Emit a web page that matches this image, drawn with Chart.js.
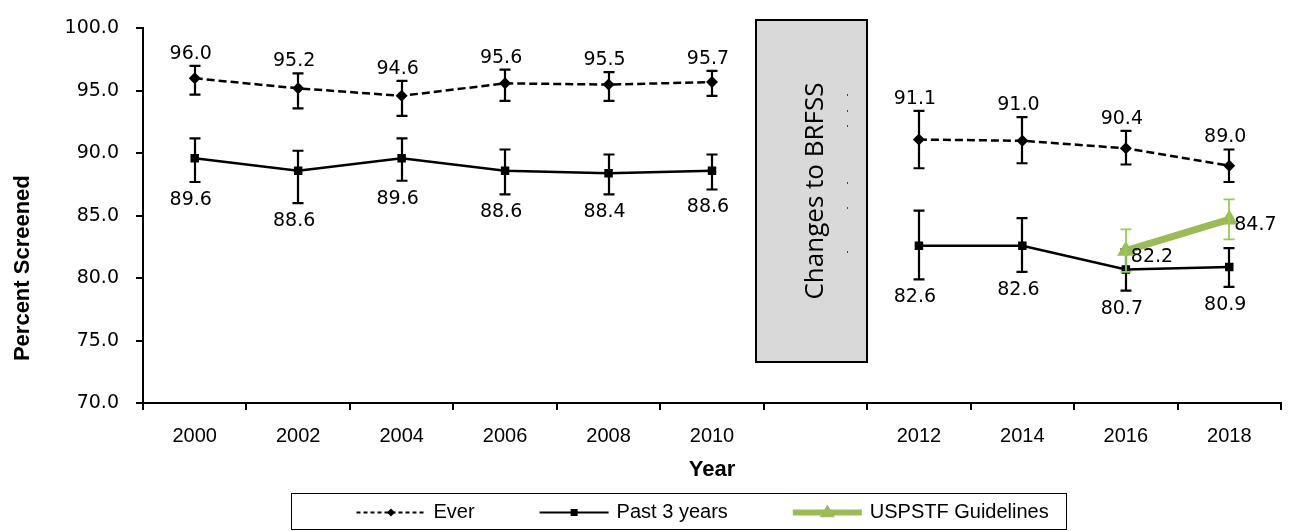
<!DOCTYPE html>
<html>
<head>
<meta charset="utf-8">
<script src="https://cdn.jsdelivr.net/npm/chart.js@4.4.0/dist/chart.umd.min.js"></script>
<style>
  html, body { margin: 0; padding: 0; background: #fff; }
  #wrap { width: 1291px; height: 531px; position: relative; }
</style>
</head>
<body>
<div id="wrap"><canvas id="screenChart"></canvas></div>
<script>
// categories (blank slot marks the BRFSS method change)
const years = ['2000', '2002', '2004', '2006', '2008', '2010', '', '2012', '2014', '2016', '2018'];

// Ever screened, with 95% CI
const everValues = [96.0, 95.2, 94.6, 95.6, 95.5, 95.7, null, 91.1, 91.0, 90.4, 89.0];
const everLow    = [94.7, 93.6, 93.0, 94.2, 94.2, 94.6, null, 88.8, 89.2, 89.1, 87.7];
const everHigh   = [97.0, 96.4, 95.8, 96.7, 96.5, 96.6, null, 93.4, 92.9, 91.8, 90.3];

// Past 3 years, with 95% CI
const past3Values = [89.6, 88.6, 89.6, 88.6, 88.4, 88.6, null, 82.6, 82.6, 80.7, 80.9];
const past3Low    = [87.7, 86.0, 87.8, 86.7, 86.7, 87.1, null, 79.9, 80.5, 79.0, 79.3];
const past3High   = [91.2, 90.2, 91.2, 90.3, 89.9, 89.9, null, 85.4, 84.8, 82.3, 82.4];

// USPSTF guidelines, with 95% CI
const uspstfValues = [null, null, null, null, null, null, null, null, null, 82.2, 84.7];
const uspstfLow    = [null, null, null, null, null, null, null, null, null, 80.5, 83.1];
const uspstfHigh   = [null, null, null, null, null, null, null, null, null, 83.9, 86.3];

const yMin = 70, yMax = 100, yStep = 5;
const changeText = 'Changes to BRFSS';
const changeIndex = 6;

const labelFont = '19px "DejaVu Sans"';

// error bars, drawn right after each dataset so layering follows dataset order
const errorBars = {
    id: 'errorBars',
    afterDatasetDraw(chart, args) {
        const ds = chart.data.datasets[args.index];
        if (!ds.ciLow) return;
        const { ctx, scales: { x, y } } = chart;
        ctx.save();
        ctx.strokeStyle = ds.ciColor;
        ctx.lineWidth = ds.ciWidth;
        ds.ciLow.forEach((lo, i) => {
            const hi = ds.ciHigh[i];
            if (lo == null || hi == null) return;
            const px = Math.round(x.getPixelForValue(i));
            const top = y.getPixelForValue(hi);
            const bot = y.getPixelForValue(lo);
            ctx.beginPath();
            ctx.moveTo(px, top); ctx.lineTo(px, bot);
            ctx.moveTo(px - 5.5, top); ctx.lineTo(px + 5.5, top);
            ctx.moveTo(px - 5.5, bot); ctx.lineTo(px + 5.5, bot);
            ctx.stroke();
        });
        ctx.restore();
    }
};

// grey box over the gap year
const changeBox = {
    id: 'changeBox',
    beforeDatasetsDraw(chart) {
        const { ctx, scales: { x, y } } = chart;
        const c = x.getPixelForValue(changeIndex);
        const w = x.getPixelForValue(1) - x.getPixelForValue(0);
        const left = Math.round(c - 0.57 * w), right = Math.round(c + 0.5 * w);
        const top = Math.round(y.getPixelForValue(100.7)), bottom = Math.round(y.getPixelForValue(73.3));
        ctx.save();
        ctx.fillStyle = '#d9d9d9';
        ctx.fillRect(left, top, right - left, bottom - top);
        ctx.strokeStyle = '#000';
        ctx.lineWidth = 2;
        ctx.strokeRect(left, top, right - left, bottom - top);
        // faint dotted marks near the right edge
        ctx.fillStyle = '#444';
        [74, 90, 105, 162, 187, 231].forEach(dy => ctx.fillRect(right - 20, top + dy, 1, 2));
        ctx.translate((left + right) / 2 + 4, (top + bottom) / 2);
        ctx.rotate(-Math.PI / 2);
        ctx.fillStyle = '#000';
        ctx.font = '26px "Open Sans"';
        ctx.textAlign = 'center';
        ctx.textBaseline = 'middle';
        ctx.fillText(changeText, 0, 0);
        ctx.restore();
    }
};

// value labels, y title and the boxed legend
const extras = {
    id: 'extras',
    afterDatasetsDraw(chart) {
        const { ctx, scales: { x, y } } = chart;
        ctx.save();
        ctx.font = labelFont;
        ctx.fillStyle = '#000';
        ctx.textBaseline = 'middle';
        ctx.textAlign = 'center';
        everValues.forEach((v, i) => {
            if (v == null) return;
            ctx.fillText(v.toFixed(1), x.getPixelForValue(i) - 4, y.getPixelForValue(everHigh[i]) - 12);
        });
        past3Values.forEach((v, i) => {
            if (v == null) return;
            ctx.fillText(v.toFixed(1), x.getPixelForValue(i) - 4, y.getPixelForValue(past3Low[i]) + 18);
        });
        ctx.textAlign = 'left';
        uspstfValues.forEach((v, i) => {
            if (v == null) return;
            ctx.fillText(v.toFixed(1), x.getPixelForValue(i) + 5, y.getPixelForValue(v) + 6);
        });
        ctx.restore();
    },
    afterDraw(chart) {
        const { ctx, chartArea } = chart;
        ctx.save();
        // y axis title, sits lower than centre as in the original
        ctx.translate(23, chartArea.top + 0.64 * (chartArea.bottom - chartArea.top));
        ctx.rotate(-Math.PI / 2);
        ctx.font = 'bold 22px "Liberation Sans"';
        ctx.fillStyle = '#000';
        ctx.textAlign = 'center';
        ctx.textBaseline = 'middle';
        ctx.fillText('Percent Screened', 0, 0);
        ctx.restore();

        // legend
        const box = { left: 291.5, top: 493.5, width: 775, height: 36 };
        ctx.save();
        ctx.strokeStyle = '#000';
        ctx.lineWidth = 1;
        ctx.strokeRect(box.left, box.top, box.width, box.height);
        ctx.font = '20px "Liberation Sans"';
        ctx.textBaseline = 'middle';
        const ly = box.top + 19;
        let lx = box.left + 65;
        const order = [1, 2, 0];
        order.forEach(idx => {
            const ds = chart.data.datasets[idx];
            ctx.strokeStyle = ds.borderColor;
            ctx.lineWidth = ds.legendWidth;
            ctx.setLineDash(ds.legendDash || []);
            ctx.beginPath();
            ctx.moveTo(lx, ly); ctx.lineTo(lx + 69, ly);
            ctx.stroke();
            ctx.setLineDash([]);
            drawMarker(ctx, ds.pointStyle, lx + 34.5, ly, ds.legendRadius, ds.pointBackgroundColor);
            ctx.fillStyle = '#000';
            ctx.fillText(ds.label, lx + 77, ly);
            lx += 77 + ctx.measureText(ds.label).width + 65;
        });
        ctx.restore();
    }
};

function drawMarker(ctx, style, cx, cy, r, color) {
    ctx.fillStyle = color;
    ctx.beginPath();
    if (style === 'rectRot') {
        ctx.moveTo(cx - r, cy); ctx.lineTo(cx, cy - r); ctx.lineTo(cx + r, cy); ctx.lineTo(cx, cy + r);
    } else if (style === 'rect') {
        ctx.rect(cx - r, cy - r, 2 * r, 2 * r);
    } else {
        ctx.moveTo(cx, cy - r); ctx.lineTo(cx + r * 0.95, cy + r * 0.6); ctx.lineTo(cx - r * 0.95, cy + r * 0.6);
    }
    ctx.closePath();
    ctx.fill();
}

const ctx = document.getElementById('screenChart').getContext('2d');

new Chart(ctx, {
    type: 'line',
    data: {
        labels: years,
        datasets: [{
            label: 'USPSTF Guidelines',
            data: uspstfValues,
            order: 0,
            borderColor: '#9bbb59',
            borderWidth: 7,
            pointStyle: 'triangle',
            pointRadius: 10,
            pointBackgroundColor: '#9bbb59',
            pointBorderColor: '#9bbb59',
            pointBorderWidth: 0,
            ciLow: uspstfLow, ciHigh: uspstfHigh, ciColor: '#92d050', ciWidth: 1.8,
            legendRadius: 8, legendWidth: 6
        }, {
            label: 'Ever',
            data: everValues,
            order: 2,
            borderColor: '#000',
            borderWidth: 2.5,
            borderDash: [8, 4],
            legendDash: [4, 3],
            pointStyle: 'rectRot',
            pointRadius: 6,
            pointBackgroundColor: '#000',
            pointBorderColor: '#000',
            pointBorderWidth: 0,
            ciLow: everLow, ciHigh: everHigh, ciColor: '#000', ciWidth: 2.2,
            legendRadius: 4, legendWidth: 2
        }, {
            label: 'Past 3 years',
            data: past3Values,
            order: 1,
            borderColor: '#000',
            borderWidth: 2.5,
            pointStyle: 'rect',
            pointRadius: 6,
            pointBackgroundColor: '#000',
            pointBorderColor: '#000',
            pointBorderWidth: 0,
            ciLow: past3Low, ciHigh: past3High, ciColor: '#000', ciWidth: 2.2,
            legendRadius: 3.5, legendWidth: 2
        }]
    },
    options: {
        responsive: true,
        maintainAspectRatio: false,
        animation: false,
        spanGaps: false,
        layout: { padding: { top: 17, right: 5, bottom: 41, left: 0 } },
        scales: {
            y: {
                min: yMin,
                max: yMax,
                ticks: {
                    stepSize: yStep,
                    padding: 17,
                    color: '#000',
                    font: { family: 'DejaVu Sans', size: 19 },
                    callback: v => Number(v).toFixed(1)
                },
                grid: { drawOnChartArea: false, tickLength: 7, color: '#000', lineWidth: 2 },
                border: { color: '#000', width: 2 },
                afterFit(scale) { scale.width = 143; }
            },
            x: {
                offset: true,
                ticks: {
                    padding: 14,
                    color: '#000',
                    autoSkip: false,
                    maxRotation: 0,
                    font: { family: 'Liberation Sans', size: 20 }
                },
                grid: { offset: true, drawOnChartArea: false, tickLength: 7, color: '#000', lineWidth: 2 },
                border: { color: '#000', width: 2 },
                title: {
                    display: true,
                    text: 'Year',
                    color: '#000',
                    font: { family: 'Liberation Sans', size: 22, weight: 'bold' },
                    padding: { top: 0, bottom: 7 }
                },
                afterFit(scale) { scale.height = 87; }
            }
        },
        plugins: {
            legend: { display: false },
            tooltip: { enabled: false }
        }
    },
    plugins: [changeBox, errorBars, extras]
});
</script>
</body>
</html>
